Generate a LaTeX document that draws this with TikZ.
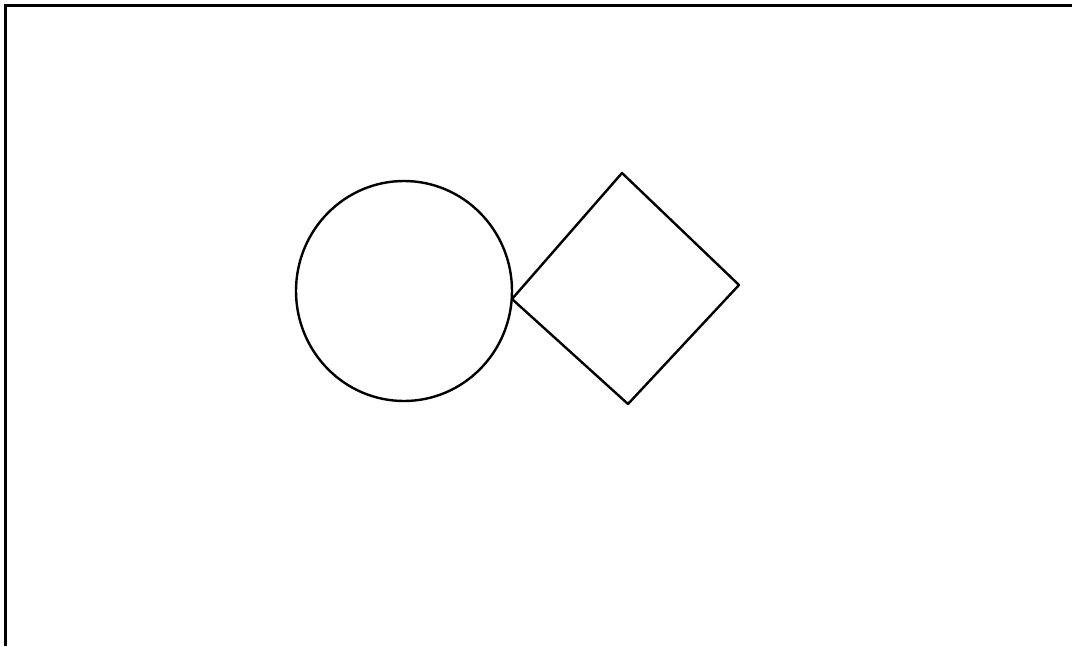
\documentclass[tikz,border=0pt]{standalone}
\begin{document}
\begin{tikzpicture}[x=1pt,y=-1pt,
  shape line/.style={line width=2.4pt,line join=round,line cap=round},
  frame line/.style={line width=3.6pt}]
\useasboundingbox (0,0) rectangle (1072,646);
% frame (top and left edges only)
\draw[frame line] (5.5,646) -- (5.5,5.5) -- (1072,5.5);
% circle
\draw[shape line] (404,291) ellipse [x radius=108, y radius=110];
% tilted square
\coordinate (dl) at (512,299);
\coordinate (dt) at (622,173);
\coordinate (dr) at (739,285);
\coordinate (db) at (628,404);
\draw[shape line] (dl) -- (dt) -- (dr) -- (db) -- cycle;
\end{tikzpicture}
\end{document}
